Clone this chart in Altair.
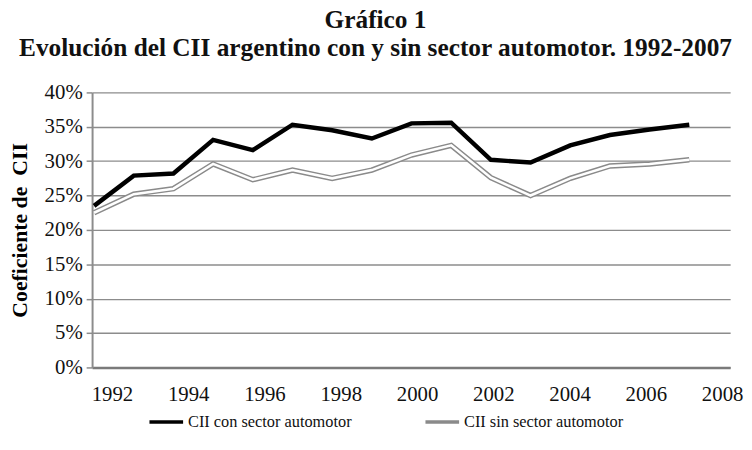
import altair as alt
import pandas as pd

years = list(range(1992, 2008))
con_sector = [23.5, 27.9, 28.2, 33.1, 31.6, 35.3, 34.5, 33.3, 35.5, 35.6, 30.2, 29.8, 32.3, 33.8, 34.6, 35.3]
sin_sector = [22.5, 25.2, 26.0, 29.6, 27.3, 28.7, 27.5, 28.7, 30.9, 32.3, 27.6, 25.0, 27.5, 29.3, 29.6, 30.2]
series_names = ["CII con sector automotor", "CII sin sector automotor"]
tick_years = list(range(1992, 2009, 2))

rows = []
for y, c, s in zip(years, con_sector, sin_sector):
    rows.append({"anio": y, "valor": c / 100, "serie": series_names[0]})
    rows.append({"anio": y, "valor": s / 100, "serie": series_names[1]})
df = pd.DataFrame(rows)
ticks_df = pd.DataFrame({"anio": tick_years})

FONT = "Liberation Serif"
GRID = "#8c8c8c"

x_line = alt.X("anio:Q", scale=alt.Scale(domain=[1991.95, 2008.03], nice=False, zero=False), axis=None)
y_enc = alt.Y(
    "valor:Q",
    scale=alt.Scale(domain=[0, 0.4], nice=False),
    axis=alt.Axis(
        values=[i * 0.05 for i in range(9)],
        format=".0%",
        title="Coeficiente de\u00a0 CII",
        titleFont=FONT,
        titleFontSize=22,
        titleFontWeight="bold",
        titleColor="black",
        titleX=-61,
        titleY=139,
        labelFont=FONT,
        labelFontSize=21,
        labelColor="#111111",
        labelPadding=4,
        tickSize=6,
        tickColor=GRID,
        tickWidth=1.5,
        domainColor=GRID,
        domainWidth=2,
        grid=True,
        gridColor=GRID,
        gridWidth=1.4,
    ),
)
color_enc = alt.Color(
    "serie:N",
    scale=alt.Scale(domain=series_names, range=["black", "#8a8a8a"]),
    legend=alt.Legend(
        title=None,
        orient="none",
        legendX=56,
        legendY=314,
        direction="horizontal",
        symbolType="stroke",
        symbolSize=1156,
        symbolStrokeWidth=3.5,
        labelFont=FONT,
        labelFontSize=16.5,
        labelColor="#111111",
        labelOffset=3,
        columnPadding=67,
        labelLimit=400,
    ),
)

base = alt.Chart(df)
gray_outer = base.transform_filter(alt.datum.serie == series_names[1]).mark_line(
    strokeWidth=5.5, strokeJoin="miter"
).encode(x=x_line, y=y_enc, color=color_enc)
gray_inner = base.transform_filter(alt.datum.serie == series_names[1]).mark_line(
    strokeWidth=2.6, strokeJoin="miter", color="white"
).encode(x=x_line, y=y_enc)
black_line = base.transform_filter(alt.datum.serie == series_names[0]).mark_line(
    strokeWidth=4.5, strokeJoin="miter"
).encode(x=x_line, y=y_enc, color=color_enc)

label_axis = alt.Chart(ticks_df).mark_rule(opacity=0).encode(
    x=alt.X(
        "anio:Q",
        scale=alt.Scale(domain=[1991.48, 2008.21], nice=False, zero=False),
        axis=alt.Axis(
            values=tick_years,
            format="d",
            title=None,
            grid=False,
            ticks=False,
            labelFont=FONT,
            labelFontSize=21,
            labelColor="#111111",
            labelPadding=16,
            domainColor="#7a7a7a",
            domainWidth=2.5,
            labelFlush=False,
        ),
    )
)

chart = alt.layer(gray_outer, gray_inner, black_line, label_axis).resolve_scale(
    x="independent"
).properties(
    width=645,
    height=278,
    autosize=alt.AutoSizeParams(type="none"),
    padding={"left": 85, "top": 83, "right": 14, "bottom": 70},
    title=alt.TitleParams(
        text=["Gráfico 1", "Evolución del CII argentino con y sin sector automotor. 1992-2007"],
        font=FONT,
        fontSize=25.6,
        fontWeight="bold",
        color="#111111",
        anchor="middle",
        dx=-36,
        lineHeight=29,
        offset=20,
    ),
).configure_view(stroke=None)

chart.save("out.html", embed_options={"renderer": "svg", "actions": False})
